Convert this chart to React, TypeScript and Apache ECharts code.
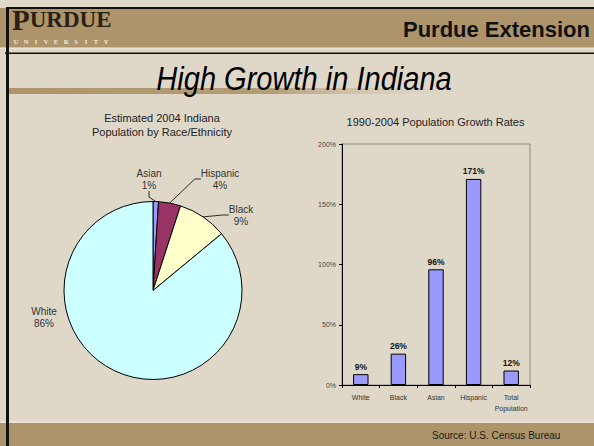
import React, { useEffect, useRef } from "react";
import * as echarts from "echarts";

// ---- data ----
const pieCategories = ["Asian", "Hispanic", "Black", "White"];
const pieValues = [1, 4, 9, 86];
const pieColors = ["#9999FF", "#993366", "#FFFFCC", "#CCFFFF"];

const barCategories = ["White", "Black", "Asian", "Hispanic", "Total\nPopulation"];
const barValues = [9, 26, 96, 171, 12];
const yAxisMin = 0;
const yAxisMax = 200;
const yAxisStep = 50;

// label placement (layout, not data)
const pieLabelSpots: [number, number][] = [
  [149, 179],
  [220, 179],
  [241, 215],
  [44, 317],
];

const SANS = "'Liberation Sans', Arial, sans-serif";
const SERIF = "'Liberation Serif', 'DejaVu Serif', serif";

export default function App() {
  const ref = useRef<HTMLDivElement>(null);

  useEffect(() => {
    if (!ref.current) return;
    const chart = echarts.init(ref.current, undefined, { renderer: "svg" });

    const universityLetters = "UNIVERSITY".split("").map((ch, i) => ({
      type: "text",
      z: 5,
      x: 16 + i * 10,
      y: 41,
      style: {
        text: ch,
        fill: "#F3EBDA",
        font: `bold 6.5px ${SERIF}`,
        align: "center",
        verticalAlign: "middle",
      },
    }));

    const option: any = {
      animation: false,
      backgroundColor: "#DFD8C8",
      title: [
        {
          text: "Estimated 2004 Indiana\nPopulation by Race/Ethnicity",
          left: 162,
          top: 111,
          padding: 0,
          textAlign: "center",
          textStyle: {
            fontFamily: SANS,
            fontSize: 11,
            fontWeight: "normal",
            color: "#222",
            lineHeight: 14,
          },
        },
        {
          text: "1990-2004 Population Growth Rates",
          left: 435.5,
          top: 116,
          padding: 0,
          textAlign: "center",
          textStyle: {
            fontFamily: SANS,
            fontSize: 11,
            fontWeight: "normal",
            color: "#222",
          },
        },
      ],
      graphic: {
        elements: [
          // banner
          { type: "rect", z: 0, shape: { x: 0, y: 8, width: 594, height: 40 }, style: { fill: "#AD946A" } },
          { type: "rect", z: 1, shape: { x: 6, y: 7, width: 588, height: 2 }, style: { fill: "#111" } },
          { type: "rect", z: 1, shape: { x: 0, y: 47.5, width: 594, height: 1 }, style: { fill: "#F4EFE4" } },
          { type: "rect", z: 1, shape: { x: 5, y: 52.5, width: 589, height: 1.5 }, style: { fill: "#111" } },
          // gold rule under title
          {
            type: "rect",
            z: 1,
            shape: { x: 8, y: 88, width: 475, height: 6 },
            style: {
              fill: new echarts.graphic.LinearGradient(0, 0, 1, 0, [
                { offset: 0, color: "#AD946A" },
                { offset: 0.55, color: "#B39D76" },
                { offset: 1, color: "rgba(223,216,200,0)" },
              ]),
            },
          },
          // footer
          { type: "rect", z: 0, shape: { x: 0, y: 422.5, width: 594, height: 24 }, style: { fill: "#AD946A" } },
          { type: "rect", z: 1, shape: { x: 0, y: 421.5, width: 594, height: 1.2 }, style: { fill: "#F4EFE4" } },
          // left border
          { type: "rect", z: 2, shape: { x: 6, y: 7, width: 3, height: 439 }, style: { fill: "#111" } },
          // logo
          {
            type: "text",
            z: 5,
            x: 12,
            y: 34,
            style: {
              text: "{a|P}{b|URDUE}",
              verticalAlign: "bottom",
              rich: {
                a: { font: `bold 29px ${SERIF}`, fill: "#2A2116" },
                b: { font: `bold 23px ${SERIF}`, fill: "#2A2116" },
              },
            },
          },
          ...universityLetters,
          {
            type: "text",
            z: 5,
            x: 590,
            y: 29,
            style: {
              text: "Purdue Extension",
              fill: "#111",
              font: `bold 22px ${SANS}`,
              align: "right",
              verticalAlign: "middle",
            },
          },
          {
            type: "text",
            z: 5,
            x: 304,
            y: 79,
            scaleX: 0.88,
            style: {
              text: "High Growth in Indiana",
              fill: "#000",
              font: `italic 33px ${SANS}`,
              align: "center",
              verticalAlign: "middle",
            },
          },
          {
            type: "text",
            z: 5,
            x: 432,
            y: 435.5,
            style: {
              text: "Source: U.S. Census Bureau",
              fill: "#1A1A1A",
              font: `10px ${SANS}`,
              align: "left",
              verticalAlign: "middle",
            },
          },
        ],
      },
      grid: {
        left: 342,
        right: 64,
        top: 144,
        bottom: 61,
        show: true,
        borderColor: "#8C8C8C",
        borderWidth: 1,
        backgroundColor: "transparent",
      },
      xAxis: {
        type: "category",
        data: barCategories,
        axisLine: { lineStyle: { color: "#000", width: 1 } },
        axisTick: { show: true, length: 3, lineStyle: { color: "#000" } },
        axisLabel: {
          fontFamily: SANS,
          fontSize: 7,
          color: "#333",
          margin: 7,
          lineHeight: 11,
          interval: 0,
        },
      },
      yAxis: {
        type: "value",
        min: yAxisMin,
        max: yAxisMax,
        interval: yAxisStep,
        axisLine: { show: true, lineStyle: { color: "#000", width: 1 } },
        axisTick: { show: true, length: 3, lineStyle: { color: "#000" } },
        splitLine: { show: false },
        axisLabel: {
          formatter: "{value}%",
          fontFamily: SANS,
          fontSize: 7,
          color: "#444",
          margin: 6,
        },
      },
      series: [
        {
          type: "pie",
          center: [153, 290.5],
          radius: 89,
          startAngle: 90,
          clockwise: true,
          itemStyle: { borderColor: "#000", borderWidth: 1 },
          data: pieCategories.map((name, i) => ({
            name,
            value: pieValues[i],
            itemStyle: { color: pieColors[i] },
            labelLine: { show: name !== "White" },
          })),
          label: {
            show: true,
            position: "outside",
            formatter: "{b}\n{c}%",
            fontFamily: SANS,
            fontSize: 10,
            lineHeight: 12,
            color: "#333",
            align: "center",
          },
          labelLine: {
            show: true,
            length: 8,
            length2: 6,
            lineStyle: { color: "#000", width: 0.8 },
          },
          labelLayout: (params: any) => {
            const spot = pieLabelSpots[params.dataIndex];
            return {
              x: spot[0],
              y: spot[1],
              align: "center",
              verticalAlign: "middle",
            };
          },
        },
        {
          type: "bar",
          data: barValues,
          barWidth: "41%",
          itemStyle: { color: "#9999FF", borderColor: "#000", borderWidth: 1 },
          label: {
            show: true,
            position: "top",
            distance: 3,
            formatter: "{c}%",
            fontFamily: SANS,
            fontSize: 8.5,
            fontWeight: "bold",
            color: "#111",
          },
        },
      ],
    };

    chart.setOption(option);
    return () => chart.dispose();
  }, []);

  return (
    <div
      ref={ref}
      style={{ position: "absolute", left: 0, top: 0, width: 594, height: 446 }}
    />
  );
}
